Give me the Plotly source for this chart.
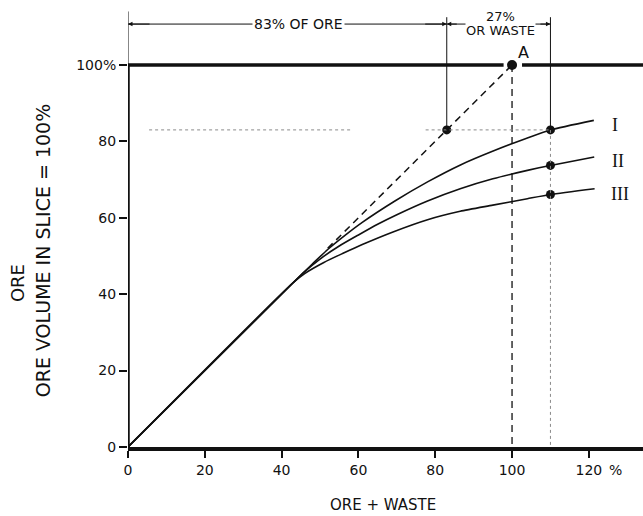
import plotly.graph_objects as go

# Recovery curves: ore + waste extracted (x, %) against ore recovered (y, %)
curve_I_x = [0, 43, 48, 52, 56.5, 61, 69.5, 78, 86.7, 95.4, 104, 110, 121.3]
curve_I_y = [0, 43, 47.9, 51.7, 55.4, 58.8, 64.4, 69.4, 73.9, 77.6, 80.9, 83.0, 85.5]
curve_II_x = [0, 43, 46, 50, 55, 60, 65, 70, 78, 86.5, 95, 104, 110, 121.4]
curve_II_y = [0, 43, 45.9, 49.2, 52.6, 55.5, 58.3, 60.8, 64.4, 67.6, 70.2, 72.4, 73.7, 75.9]
curve_III_x = [0, 43, 46, 51, 56, 61, 69, 78, 86.5, 95, 104, 110, 121.5]
curve_III_y = [0, 43, 45.4, 48.3, 50.7, 53.0, 56.3, 59.5, 61.7, 63.3, 65.0, 66.1, 67.6]
curve_names = ["I", "II", "III"]

# Ideal (no dilution) extension of the straight part up to point A
ideal_x = [52, 83, 100]
ideal_y = [52, 83, 100]
point_A = (100, 100)
dilution_at = 110          # ore + waste percentage marked on the curves
ore_share = 83             # "83% OF ORE"
waste_share = 27           # "27% OR WASTE"

x_ticks = [0, 20, 40, 60, 80, 100, 120]
x_tick_text = ["0", "20", "40", "60", "80", "100", "120"]
y_ticks = [0, 20, 40, 60, 80, 100]
y_tick_text = ["0", "20", "40", "60", "80", "100%"]

FONT = "DejaVu Sans"
INK = "#111111"

fig = go.Figure()

curves = [(curve_I_x, curve_I_y), (curve_II_x, curve_II_y), (curve_III_x, curve_III_y)]
for (cx, cy), name in zip(curves, curve_names):
    fig.add_trace(go.Scatter(
        x=cx, y=cy, mode="lines", name=name,
        line=dict(color=INK, width=1.6, shape="spline", smoothing=0.6),
        hoverinfo="skip", showlegend=False,
    ))

# dashed ideal line and the vertical drop from A
fig.add_trace(go.Scatter(
    x=ideal_x, y=ideal_y, mode="lines",
    line=dict(color=INK, width=1.5, dash="7px,5px"),
    hoverinfo="skip", showlegend=False,
))
fig.add_trace(go.Scatter(
    x=[point_A[0], point_A[0]], y=[point_A[1], 0], mode="lines",
    line=dict(color=INK, width=1.3, dash="7px,5px"),
    hoverinfo="skip", showlegend=False,
))

# values of the three curves where ore + waste reaches 110 %
marked_y = [cy[cx.index(dilution_at)] for cx, cy in curves]
y_I_mark = marked_y[0]

# dotted guide lines
dot_style = dict(color="#8a8a8a", width=1, dash="dot")
fig.add_shape(type="line", x0=5.5, x1=58, y0=y_I_mark, y1=y_I_mark, line=dot_style)
fig.add_shape(type="line", x0=77.5, x1=dilution_at, y0=y_I_mark, y1=y_I_mark, line=dot_style)
fig.add_shape(type="line", x0=dilution_at, x1=dilution_at, y0=y_I_mark, y1=0, line=dot_style)

# frame: thick left axis and the 100 % line broken around A
heavy = dict(color=INK, width=3.5)
fig.add_shape(type="line", x0=0, x1=0, y0=0, y1=100, line=heavy)
fig.add_shape(type="line", x0=0, x1=97.8, y0=100, y1=100, line=heavy)
fig.add_shape(type="line", x0=102.6, x1=134.1, y0=100, y1=100, line=heavy)

# dimension lines above the frame
thin = dict(color=INK, width=1)
dim_y = 110.7
fig.add_shape(type="line", x0=0, x1=0, y0=100, y1=114, line=thin)
fig.add_shape(type="line", x0=ore_share, x1=ore_share, y0=ore_share, y1=112.5, line=thin)
fig.add_shape(type="line", x0=dilution_at, x1=dilution_at, y0=y_I_mark, y1=112.5, line=thin)
fig.add_shape(type="line", x0=0, x1=ore_share, y0=dim_y, y1=dim_y, line=thin)
fig.add_shape(type="line", x0=ore_share, x1=dilution_at, y0=dim_y, y1=dim_y, line=thin)

# marked points
fig.add_trace(go.Scatter(
    x=[ore_share, dilution_at, dilution_at, dilution_at],
    y=[ore_share] + marked_y,
    mode="markers", marker=dict(color=INK, size=9),
    hoverinfo="skip", showlegend=False,
))
fig.add_trace(go.Scatter(
    x=[point_A[0]], y=[point_A[1]], mode="markers",
    marker=dict(color=INK, size=10), hoverinfo="skip", showlegend=False,
))

ann = []
# arrow heads of the dimension lines
for head, tail in [(0, 6), (ore_share, ore_share - 6), (ore_share, ore_share + 3), (dilution_at, dilution_at - 3)]:
    ann.append(dict(x=head, y=dim_y, ax=tail, ay=dim_y, xref="x", yref="y", axref="x", ayref="y",
                    text="", showarrow=True, arrowhead=2, arrowsize=0.9, arrowwidth=1, arrowcolor=INK))

ann.append(dict(x=44.5, y=dim_y, xref="x", yref="y", text=f"{ore_share}% OF ORE", showarrow=False,
                bgcolor="white", borderpad=1, font=dict(family=FONT, size=14, color=INK)))
ann.append(dict(x=96.9, y=112.6, xref="x", yref="y", text=f"{waste_share}%", showarrow=False,
                font=dict(family=FONT, size=13, color=INK)))
ann.append(dict(x=96.9, y=108.9, xref="x", yref="y", text="OR WASTE", showarrow=False,
                bgcolor="white", borderpad=0, font=dict(family=FONT, size=13, color=INK)))
ann.append(dict(x=102.9, y=103.3, xref="x", yref="y", text="A", showarrow=False,
                font=dict(family=FONT, size=16, color=INK)))

# curve labels
for name, (lx, ly) in zip(curve_names, [(126.8, 84.3), (127.6, 74.9), (128.1, 66.2)]):
    ann.append(dict(x=lx, y=ly, xref="x", yref="y", text=name, showarrow=False,
                    font=dict(family="Liberation Serif", size=18, color=INK)))

# axis titles (paper coordinates so they may sit outside the plotting area)
ann.append(dict(x=(383 - 128) / 515, y=(447 - 505) / 447, xref="paper", yref="paper", text="ORE + WASTE",
                showarrow=False, xanchor="center", yanchor="middle",
                font=dict(family=FONT, size=15, color=INK)))
ann.append(dict(x=(615 - 128) / 515, y=(447 - 470) / 447, xref="paper", yref="paper", text="%",
                showarrow=False, xanchor="center", yanchor="middle",
                font=dict(family=FONT, size=14, color=INK)))
ann.append(dict(x=(17 - 128) / 515, y=42.9, xref="paper", yref="y", text="ORE", textangle=-90,
                showarrow=False, xanchor="center", yanchor="middle",
                font=dict(family=FONT, size=18, color=INK)))
ann.append(dict(x=(43 - 128) / 515, y=51.5, xref="paper", yref="y", text="ORE VOLUME IN SLICE = 100%",
                textangle=-90, showarrow=False, xanchor="center", yanchor="middle",
                font=dict(family=FONT, size=19, color=INK)))

fig.update_layout(
    width=643, height=516,
    margin=dict(l=128, r=0, t=0, b=69),
    paper_bgcolor="white", plot_bgcolor="white",
    annotations=ann,
    font=dict(family=FONT, color=INK),
)
fig.update_xaxes(
    range=[0, 134.1], showgrid=False, zeroline=False,
    showline=True, linecolor=INK, linewidth=3.5,
    ticks="outside", ticklen=7, tickwidth=1.5, tickcolor=INK,
    tickvals=x_ticks, ticktext=x_tick_text, tickfont=dict(family=FONT, size=14, color=INK),
)
fig.update_yaxes(
    range=[0, 117.0], showgrid=False, zeroline=False, showline=False,
    ticks="outside", ticklen=8, tickwidth=1.5, tickcolor=INK,
    tickvals=y_ticks, ticktext=y_tick_text, tickfont=dict(family=FONT, size=14, color=INK),
)

fig.write_html("out.html")
